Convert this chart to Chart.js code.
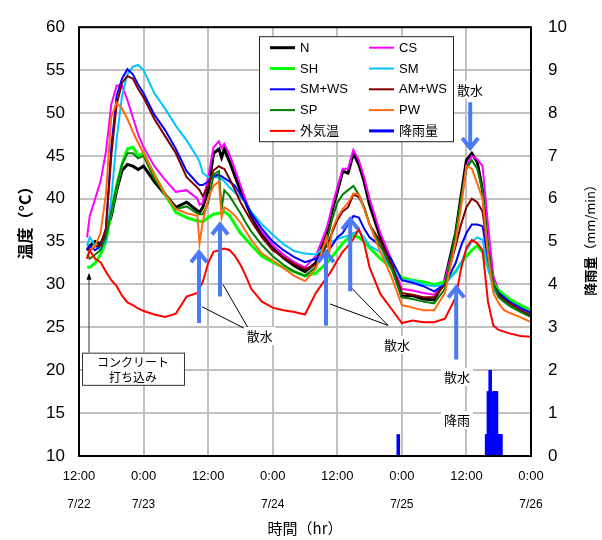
<!DOCTYPE html>
<html>
<head>
<meta charset="utf-8">
<script src="https://cdn.jsdelivr.net/npm/chart.js@4.4.1/dist/chart.umd.min.js"></script>
<style>
  html, body { margin: 0; padding: 0; background: #fff; }
  #wrap { width: 602px; height: 540px; }
</style>
</head>
<body>
<div id="wrap"><canvas id="chart" width="602" height="540"></canvas></div>
<script>
// ------------------------
// DATA
// ------------------------
// hours since 7/22 12:00
const hours = [1.5,2,3,4,5,6,7,8,9,10,11,12, 14,16,18,20,22,22.4,
  23,24,25,26,26.5,27,28,29,30,31,32, 34,36,38,40,42,44,46,46.5,
  47,48,49,50,51,52,53,54, 56,58,60,62,64,66,68,70,
  71,72,73,74,75,76,77,78,79,80, 82,84];

const tempN = [34.0,34.5,35.0,34.7,36.0,38.0,41.0,43.3,44.0,43.8,43.4,43.8, 42.0,40.5,39.0,39.6,38.6,38.4,
  39.0,41.0,45.3,45.8,44.8,45.8,44.3,42.6,41.0,39.5,38.0, 35.8,34.2,33.1,32.2,31.5,32.5,35.8,37.0,
  38.5,40.8,43.2,43.0,45.3,44.0,42.0,39.3, 35.5,32.5,28.6,28.7,28.3,28.2,30.5,36.0,
  40.3,44.5,45.3,44.3,41.0,34.0,30.4,29.0,28.2,27.8, 27.0,26.4];
const tempCS = [35.5,38.0,40.0,42.0,45.5,51.0,53.2,53.2,51.5,49.5,47.5,46.0, 43.8,42.2,40.8,41.0,40.0,39.3,
  39.5,42.5,46.0,46.7,45.9,46.4,45.1,43.4,41.6,39.8,38.3, 36.2,34.6,33.5,32.6,32.0,33.3,36.5,37.7,
  39.0,41.3,43.5,43.5,45.7,44.5,42.5,40.0, 36.0,33.0,29.5,29.3,29.0,28.8,30.5,35.5,
  39.5,43.8,45.0,44.6,43.8,37.0,31.0,29.3,28.5,28.0, 27.0,26.3];
const tempSH = [32.0,32.0,32.5,33.5,35.0,38.5,41.5,44.0,45.8,46.0,45.0,45.3, 42.8,40.5,38.4,37.8,37.4,37.4,
  37.3,37.8,38.2,38.3,38.3,38.5,38.0,37.0,36.0,35.3,34.6, 33.3,32.6,32.0,31.5,31.0,31.3,32.5,32.8,
  33.2,34.0,34.8,35.4,35.7,35.5,35.0,34.3, 33.0,32.0,30.8,30.5,30.3,30.0,30.3,31.5,
  32.5,33.3,34.0,34.5,33.8,32.0,30.2,29.3,28.8,28.3, 27.6,27.0];
const tempSM = [34.5,35.5,34.5,34.0,35.0,40.0,47.0,52.0,54.5,55.4,55.6,55.0, 52.3,50.5,48.5,46.8,44.8,44.3,
  43.0,42.5,42.5,42.5,42.3,42.0,41.3,40.7,40.2,39.5,38.5, 37.0,35.8,34.7,33.9,33.6,33.5,34.5,34.7,
  35.0,35.3,35.5,35.7,36.0,36.2,35.5,34.5, 33.8,32.0,30.5,30.5,30.0,29.8,30.0,31.5,
  32.5,34.0,35.0,35.5,35.2,32.0,29.5,28.5,28.0,27.6, 27.0,26.5];
const tempSMWS = [34.0,34.5,34.0,34.5,36.5,46.0,52.0,54.0,55.1,54.5,53.3,52.3, 49.8,48.0,45.8,43.2,41.8,41.6,
  41.6,42.0,42.6,42.8,42.6,42.4,42.0,41.5,40.5,39.5,38.3, 36.5,35.0,34.0,33.2,32.6,33.0,33.8,34.1,
  34.5,35.5,36.0,37.0,38.0,37.8,36.5,35.5, 34.5,33.0,30.5,30.2,29.8,29.2,30.0,32.5,
  34.5,36.0,37.0,37.0,36.8,33.0,30.0,29.0,28.5,28.0, 27.3,26.7];
const tempAMWS = [34.0,34.0,34.5,34.5,36.5,45.0,51.0,53.5,54.3,54.0,52.8,51.8, 49.3,47.3,45.3,42.5,41.3,41.0,
  40.3,41.5,43.3,43.8,43.6,43.5,42.3,41.0,39.6,38.5,37.4, 35.5,34.0,33.2,32.4,31.8,32.3,34.5,35.2,
  36.0,37.5,38.5,39.0,40.5,40.2,39.0,37.0, 35.0,32.5,29.0,28.8,28.5,28.5,30.0,34.5,
  37.0,39.0,40.0,39.6,38.5,34.0,30.0,28.8,28.2,27.8, 27.0,26.4];
const tempSP = [33.5,33.0,33.5,34.0,35.5,38.5,41.5,44.0,45.3,45.3,44.7,45.0, 42.3,40.6,38.8,39.1,38.3,38.2,
  38.2,39.5,42.8,43.2,38.8,41.0,40.3,39.3,38.3,37.2,36.2, 34.6,33.3,32.3,31.5,31.0,32.0,35.0,36.2,
  37.5,39.5,40.5,41.0,41.5,40.5,39.0,37.0, 34.5,32.0,28.5,28.3,28.0,27.8,29.5,36.0,
  40.0,43.5,44.5,43.5,41.0,34.5,30.0,28.5,28.0,27.5, 26.8,26.2];
const tempPW = [33.0,34.0,34.5,36.0,40.5,49.5,51.2,50.5,49.3,47.8,46.5,45.3, 42.8,40.5,38.8,38.3,38.0,34.8,
  37.3,40.0,41.5,42.0,37.8,39.0,38.6,38.0,37.2,36.2,35.2, 33.6,32.8,31.9,31.0,30.4,31.8,35.5,33.6,
  36.3,37.8,38.8,39.5,40.6,40.5,38.8,37.0, 33.8,31.0,27.6,27.3,27.0,27.0,29.0,35.0,
  39.0,43.8,43.5,41.8,40.0,33.5,29.0,27.8,27.0,26.7, 26.2,25.6];
const tempAir = [33.0,34.0,33.0,32.6,31.5,30.5,29.8,28.7,27.9,27.6,27.2,26.9, 26.5,26.2,26.6,28.6,29.0,29.6,
  30.3,32.5,33.8,34.0,34.1,34.2,34.0,33.3,32.3,31.0,29.5, 28.0,27.3,27.0,26.8,26.5,29.0,30.8,31.2,
  31.7,32.8,33.8,34.5,35.3,36.5,34.8,32.0, 28.9,27.2,25.5,25.8,25.6,25.6,26.0,28.5,
  31.8,34.3,35.2,34.8,34.0,28.0,25.2,24.7,24.5,24.3, 24.0,23.9];

// rainfall (mm/min), 10 min steps
const rainHours = [59.25,59.42, 75.67,75.83,76.0,76.17,76.33,76.5,76.67,76.83,77.0,77.17,77.33,77.5,77.67,77.83,78.0,78.17,78.33,78.5];
const rainValues = [0.5,0.5, 0.5,0.5,1.5,1.5,2.0,2.0,0.5,0.5,1.5,1.5,1.5,1.5,1.5,0.5,0.5,0.5,0.5,0.5];

// tick labels
const timeLabels = ['12:00', '0:00'];        // alternates every 12 h
const dateTicks = [0, 12, 36, 60, 84];
const dateLabels = ['7/22', '7/23', '7/24', '7/25', '7/26'];

// ------------------------
// SERIES STYLE
// ------------------------
const SERIES = [
  { label: 'N',      data: tempN,    color: '#000000', width: 3 },
  { label: 'CS',     data: tempCS,   color: '#ff00ff', width: 2 },
  { label: 'SH',     data: tempSH,   color: '#00ff00', width: 3 },
  { label: 'SM',     data: tempSM,   color: '#00c4ff', width: 2 },
  { label: 'SM+WS',  data: tempSMWS, color: '#0000ff', width: 2 },
  { label: 'AM+WS',  data: tempAMWS, color: '#800000', width: 2 },
  { label: 'SP',     data: tempSP,   color: '#008000', width: 2 },
  { label: 'PW',     data: tempPW,   color: '#ff6a10', width: 2 },
  { label: '外気温', data: tempAir,  color: '#ff0000', width: 2 }
];
const RAIN_COLOR = '#0000ff';
const ARROW_COLOR = '#4a7af8';
const FONT = "'Liberation Sans', 'Noto Sans CJK JP', sans-serif";
const JP = "'Noto Sans CJK JP', sans-serif";

// annotations, in data units (hours, deg C)
const ANN = {
  up: [[22.3, 25.5, 33.75], [26.2, 28.6, 37.0], [45.9, 25.2, 33.75], [50.4, 29.2, 37.6], [70.1, 21.25, 29.65]],
  down: [[72.7, 51.25, 45.9]],
  leaders: [[22.86, 27.4, 31.78, 24.55], [26.76, 30.0, 31.78, 24.55], [46.65, 27.73, 57.42, 25.23], [50.36, 29.77, 57.42, 25.23]],
  labels: [['散水', 33.6, 24.0], ['散水', 59.1, 22.95], ['散水', 70.25, 19.2], ['散水', 72.65, 52.7], ['降雨', 70.25, 14.2]],
  box: { x0: 0.56, y0: 22.05, x1: 19.51, y1: 18.3, lines: ['コンクリート', '打ち込み'], arrowX: 1.86, arrowTip: 31.36 }
};

// ------------------------
// DRAW HELPERS
// ------------------------
function blueArrow(ctx, x, yTail, yTip){
  const d = yTip < yTail ? 1 : -1;
  ctx.beginPath(); ctx.moveTo(x, yTail); ctx.lineTo(x, yTip + d*2); ctx.stroke();
  ctx.beginPath(); ctx.moveTo(x-8, yTip + d*10); ctx.lineTo(x, yTip); ctx.lineTo(x+8, yTip + d*10); ctx.stroke();
}

const overlay = {
  id: 'overlay',
  afterDatasetsDraw(chart){
    const { ctx, chartArea: a, scales } = chart;
    const px = h => scales.x.getPixelForValue(h);
    const py = t => scales.y.getPixelForValue(t);
    ctx.save();

    // leader lines
    ctx.strokeStyle = '#000'; ctx.lineWidth = 1;
    ANN.leaders.forEach(l => {
      ctx.beginPath(); ctx.moveTo(px(l[0]), py(l[1])); ctx.lineTo(px(l[2]), py(l[3])); ctx.stroke();
    });

    // watering arrows
    ctx.strokeStyle = ARROW_COLOR; ctx.lineWidth = 4; ctx.lineCap = 'butt'; ctx.lineJoin = 'miter';
    ANN.up.concat(ANN.down).forEach(r => blueArrow(ctx, px(r[0]), py(r[1]), py(r[2])));

    // labels on white
    ctx.font = '13px ' + JP; ctx.textAlign = 'center'; ctx.textBaseline = 'middle';
    ANN.labels.forEach(l => {
      const x = px(l[1]), y = py(l[2]);
      const w = ctx.measureText(l[0]).width + 6;
      ctx.fillStyle = '#fff'; ctx.fillRect(x - w/2, y - 9, w, 18);
      ctx.fillStyle = '#000'; ctx.fillText(l[0], x, y);
    });

    // concrete box + arrow
    const b = ANN.box;
    const bx = px(b.x0), by = py(b.y0), bw = px(b.x1) - bx, bh = py(b.y1) - by;
    ctx.fillStyle = '#fff'; ctx.fillRect(bx, by, bw, bh);
    ctx.strokeStyle = '#333'; ctx.lineWidth = 1; ctx.strokeRect(bx + 0.5, by + 0.5, bw, bh);
    ctx.fillStyle = '#000'; ctx.font = '12px ' + JP;
    ctx.fillText(b.lines[0], bx + bw/2, by + bh*0.3);
    ctx.fillText(b.lines[1], bx + bw/2, by + bh*0.76);
    const ax = px(b.arrowX), tip = py(b.arrowTip);
    ctx.beginPath(); ctx.moveTo(ax, by); ctx.lineTo(ax, tip + 5); ctx.stroke();
    ctx.beginPath(); ctx.moveTo(ax, tip); ctx.lineTo(ax - 2.5, tip + 7); ctx.lineTo(ax + 2.5, tip + 7); ctx.closePath(); ctx.fill();

    // legend box
    const lx = a.left + 180, ly = a.top + 9, lw = 194, lh = 105;
    ctx.fillStyle = '#fff'; ctx.fillRect(lx, ly, lw, lh);
    ctx.strokeStyle = '#222'; ctx.lineWidth = 1; ctx.strokeRect(lx + 0.5, ly + 0.5, lw, lh);
    const entries = chart.data.datasets.map(ds => ({ label: ds.label, color: ds.borderColor, width: ds.type === 'bar' ? 3 : ds.borderWidth }));
    ctx.font = '13px ' + FONT; ctx.textAlign = 'left'; ctx.textBaseline = 'middle';
    entries.forEach((e, i) => {
      const col = i % 2, row = Math.floor(i / 2);
      const x0 = lx + 11 + col * 99, y0 = ly + 11.5 + row * 20.8;
      ctx.strokeStyle = e.color; ctx.lineWidth = e.width;
      ctx.beginPath(); ctx.moveTo(x0, y0); ctx.lineTo(x0 + 25, y0); ctx.stroke();
      ctx.fillStyle = '#000'; ctx.fillText(e.label, x0 + 30, y0 + 0.5);
    });

    // plot frame
    ctx.strokeStyle = '#000'; ctx.lineWidth = 2;
    ctx.strokeRect(a.left, a.top, a.width, a.height);
    ctx.restore();
  },
  afterDraw(chart){
    const { ctx, chartArea: a } = chart;
    ctx.save();
    ctx.fillStyle = '#000'; ctx.textBaseline = 'middle'; ctx.textAlign = 'center';
    // bottom title
    ctx.font = '15px ' + JP;
    ctx.fillText('時間（hr）', (a.left + a.right) / 2, 528);
    // left title
    ctx.save(); ctx.translate(25, 219); ctx.rotate(-Math.PI/2);
    ctx.font = 'bold 16px ' + JP; ctx.fillText('温度（°C）', 0, 0);
    ctx.restore();
    // right title, two weights
    ctx.save(); ctx.translate(590, 237); ctx.rotate(-Math.PI/2);
    ctx.font = 'bold 13px ' + JP; const w1 = ctx.measureText('降雨量').width;
    ctx.font = '13px ' + JP; const w2 = ctx.measureText('（mm/min）').width;
    ctx.textAlign = 'left';
    ctx.font = 'bold 13px ' + JP; ctx.fillText('降雨量', -(w1 + w2)/2, 0);
    ctx.font = '13px ' + JP; ctx.fillText('（mm/min）', -(w1 + w2)/2 + w1, 0);
    ctx.restore();
    ctx.restore();
  }
};

// ------------------------
// CHART
// ------------------------
const datasets = SERIES.map((s, i) => ({
  type: 'line',
  label: s.label,
  data: hours.map((h, k) => ({ x: h, y: s.data[k] })),
  borderColor: s.color,
  borderWidth: s.width,
  pointRadius: 0,
  tension: 0,
  fill: false,
  yAxisID: 'y',
  order: SERIES.length - i + 1
}));
datasets.push({
  type: 'bar',
  label: '降雨量',
  data: rainHours.map((h, k) => ({ x: h, y: rainValues[k] })),
  backgroundColor: RAIN_COLOR,
  borderColor: RAIN_COLOR,
  borderWidth: 0,
  barThickness: 2,
  yAxisID: 'y2',
  order: 0
});

const gridColor = '#c0c0c0';

new Chart(document.getElementById('chart'), {
  type: 'line',
  data: { datasets },
  options: {
    responsive: false,
    animation: false,
    devicePixelRatio: 1,
    layout: { padding: { top: 16, left: 0, right: 0, bottom: 0 } },
    plugins: { legend: { display: false }, tooltip: { enabled: false } },
    scales: {
      x: {
        type: 'linear', min: 0, max: 84, offset: false, weight: 0,
        grid: { color: gridColor, lineWidth: 2, drawTicks: false, offset: false },
        border: { display: false },
        ticks: {
          stepSize: 12, autoSkip: false, maxRotation: 0, padding: 13, color: '#000',
          font: { family: FONT, size: 13 },
          callback: v => timeLabels[(v / 12) % 2]
        },
        afterFit: s => { s.height = 34; }
      },
      xDate: {
        type: 'linear', min: 0, max: 84, position: 'bottom', offset: false, weight: 1,
        grid: { display: false, drawTicks: false },
        border: { display: false },
        afterBuildTicks: s => { s.ticks = dateTicks.map(v => ({ value: v })); },
        ticks: {
          autoSkip: false, maxRotation: 0, padding: 7, color: '#000',
          font: { family: FONT, size: 12 },
          callback: v => dateLabels[dateTicks.indexOf(v)]
        },
        afterFit: s => { s.height = 50; }
      },
      y: {
        type: 'linear', position: 'left', min: 10, max: 60,
        grid: { color: gridColor, lineWidth: 2, drawTicks: false },
        border: { display: false },
        ticks: { stepSize: 5, padding: 14, color: '#000', font: { family: FONT, size: 17 } },
        afterFit: s => { s.width = 79; }
      },
      y2: {
        type: 'linear', position: 'right', min: 0, max: 10,
        grid: { drawOnChartArea: false, drawTicks: false },
        border: { display: false },
        ticks: { stepSize: 1, padding: 17, color: '#000', font: { family: FONT, size: 17 } },
        afterFit: s => { s.width = 71; }
      }
    }
  },
  plugins: [overlay]
});
</script>
</body>
</html>
